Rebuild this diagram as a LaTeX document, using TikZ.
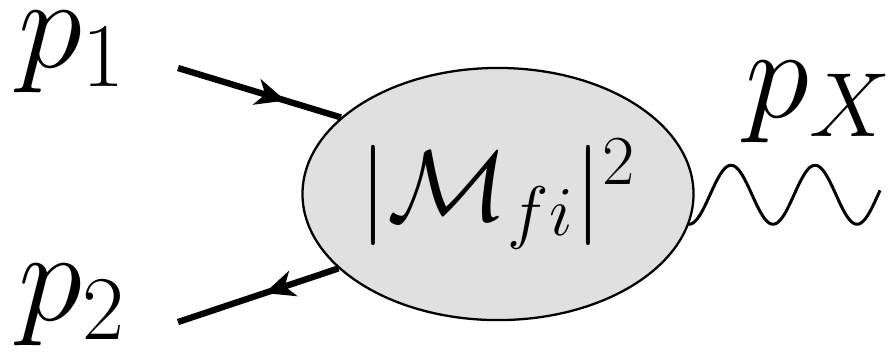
\documentclass[tikz,border=0pt]{standalone}
\usepackage{fix-cm}
\usepackage{tikz}
\usetikzlibrary{shapes.geometric,arrows.meta,decorations.markings}
\newcommand{\bigmath}{\fontsize{28.5}{34}\selectfont}
\newcommand{\hugemath}{\fontsize{37}{44}\selectfont}
\begin{document}
\begin{tikzpicture}[
    x=0.01cm, y=-0.01cm,
    blob/.style={ellipse, draw, line width=0.65pt, fill=black!12,
                 minimum width=3.8cm, minimum height=2.52cm, inner sep=0pt, font=\bigmath},
    lbl/.style={anchor=base west, inner sep=0pt, font=\hugemath},
    fermion/.style={line width=1.8pt, postaction={decorate},
                    decoration={markings, mark=at position #1 with {\arrow{Stealth[length=8.5pt,width=7.5pt,inset=2.5pt]}}}},
    fermion/.default=0.6,
    photon/.style={line width=0.85pt, line join=round}
]
\useasboundingbox (0,0) rectangle (889,353);
\node[blob] (amp) at (498,194) {$|\mathcal{M}_{fi}|^2$};
\node[lbl] (p1) at (18,67) {$p_1$};
\node[lbl] (p2) at (18,320) {$p_2$};
\node[lbl] (pX) at (745,117) {$p_X$};
\coordinate (in1) at (178,68);
\coordinate (in2) at (178,322);

\draw[fermion=0.66] (in1) -- (amp.154);
\draw[fermion=0.46] (amp.205) -- (in2);
% outgoing boson, period 84
\begin{scope}[shift={(amp.-9)}]
\draw[photon] plot[domain=0:191, samples=120, smooth] (\x, {-29.5*(1-cos(4.2857*\x))});
\end{scope}
\end{tikzpicture}
\end{document}
